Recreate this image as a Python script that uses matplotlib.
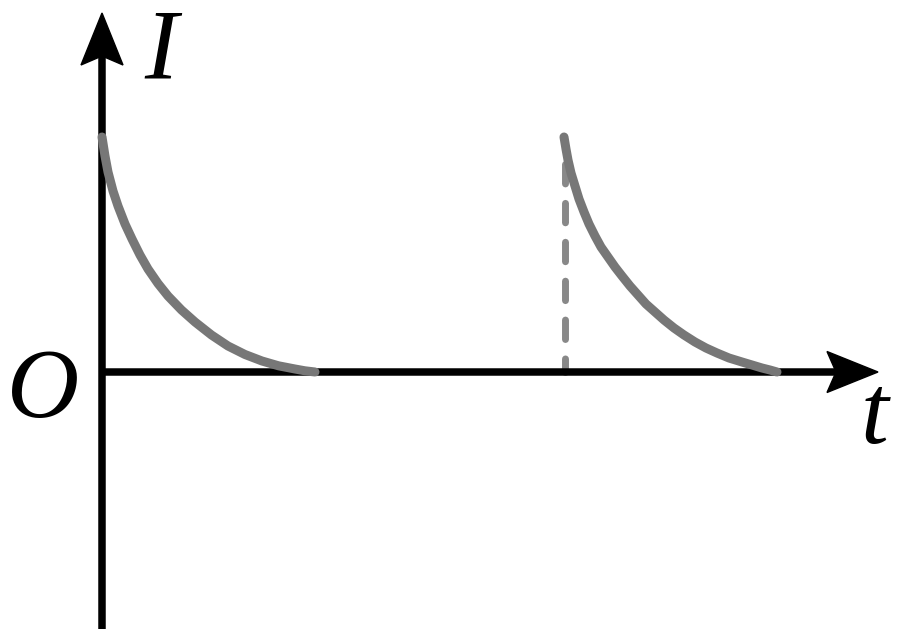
import matplotlib
matplotlib.use("Agg")
import matplotlib.pyplot as plt
from matplotlib.patches import Polygon

# Datos (1 unidad = 100 px)
t_curva1 = [0.0, 0.03, 0.06, 0.11, 0.16, 0.23, 0.30, 0.38, 0.46, 0.56, 0.66, 0.795, 0.93,
            1.095, 1.26, 1.43, 1.60, 1.765, 1.93, 2.03, 2.13]
i_curva1 = [2.35, 2.16, 2.00, 1.81, 1.66, 1.48, 1.33, 1.17, 1.03, 0.885, 0.76, 0.62, 0.50,
            0.37, 0.26, 0.175, 0.11, 0.062, 0.03, 0.012, 0.0]

t_curva2 = [4.62, 4.64, 4.66, 4.69, 4.73, 4.77, 4.82, 4.87, 4.93, 4.99, 5.06, 5.13, 5.20,
            5.28, 5.36, 5.44, 5.53, 5.62, 5.72, 5.82, 5.93, 6.04, 6.15, 6.27, 6.40, 6.50,
            6.60, 6.68, 6.75]
i_curva2 = [2.35, 2.23, 2.12, 1.99, 1.86, 1.73, 1.60, 1.48, 1.36, 1.25, 1.15, 1.05, 0.96,
            0.86, 0.77, 0.68, 0.60, 0.52, 0.44, 0.37, 0.30, 0.24, 0.19, 0.14, 0.10, 0.07,
            0.04, 0.02, 0.0]

t_salto = [4.63, 4.63]
i_salto = [2.08, 0.0]

etiquetas = {"I": (0.59, 2.95), "O": (-0.59, -0.45), "t": (7.72, -0.71)}

fig = plt.figure(figsize=(8.97, 6.41), dpi=100)
ax = fig.add_axes([0, 0, 1, 1])
ax.set_xlim(-1.02, 7.95)
ax.set_ylim(-2.69, 3.72)
ax.axis('off')

negro = 'black'
gris = '#777777'

# ejes
ax.plot([0, 0], [-2.57, 3.2], color=negro, lw=5.4, solid_capstyle='butt', zorder=2)
ax.plot([0, 7.4], [0, 0], color=negro, lw=5.4, solid_capstyle='butt', zorder=2)
ax.add_patch(Polygon([(0, 3.59), (0.21, 3.07), (0, 3.16), (-0.21, 3.07)], closed=True, color=negro, zorder=2))
ax.add_patch(Polygon([(7.76, 0), (7.25, 0.205), (7.34, 0), (7.25, -0.205)], closed=True, color=negro, zorder=2))

# linea discontinua
ax.plot(t_salto, i_salto, color='#888888', lw=5.0, linestyle=(0, (2.8, 2.8)),
        dash_capstyle='round', zorder=1)

# curvas
ax.plot(t_curva1, i_curva1, color=gris, lw=6.5, solid_capstyle='round', solid_joinstyle='round', zorder=3)
ax.plot(t_curva2, i_curva2, color=gris, lw=6.5, solid_capstyle='round', solid_joinstyle='round', zorder=3)

for texto, (x, y) in etiquetas.items():
    ax.text(x, y, texto, fontsize=72, family='Liberation Serif', style='italic',
            ha='center', va='baseline', color=negro)

fig.savefig('out.png', dpi=100)
